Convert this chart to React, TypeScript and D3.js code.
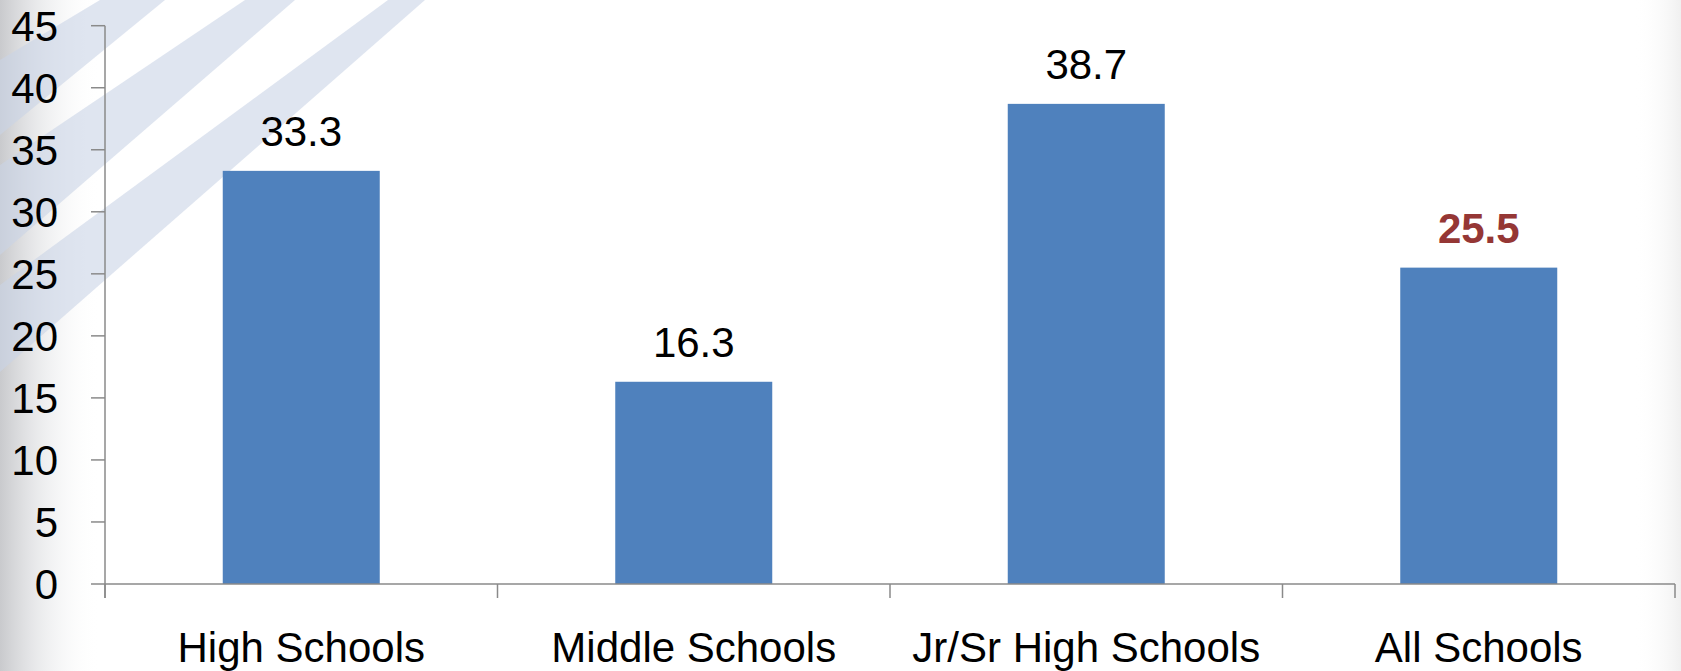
import React, { useEffect } from "react";
import * as d3 from "d3";

const categories = ["High Schools", "Middle Schools", "Jr/Sr High Schools", "All Schools"];
const values = [33.3, 16.3, 38.7, 25.5];
const highlighted = [false, false, false, true];
const yTicks = [0, 5, 10, 15, 20, 25, 30, 35, 40, 45];

const W = 1681;
const H = 671;
const FONT = "'Liberation Sans', Arial, sans-serif";
const AXIS = "#8a8a8a";

// decorative background stripes (slide theme), not data
const stripes: [number, number][][] = [
  [[100, 0], [165, 0], [0, 135], [0, 60]],
  [[245, 0], [295, 0], [0, 255], [0, 165]],
  [[388, 0], [425, 0], [0, 372], [0, 285]],
];

export default function App() {
  useEffect(() => {
    document.body.style.margin = "0";
  }, []);

  const x = d3
    .scaleBand<string>()
    .domain(categories)
    .range([105, 1675])
    .paddingInner(0.6)
    .paddingOuter(0.3);
  const y = d3.scaleLinear().domain([0, 45]).range([584, 25.7]);
  const step = x.step();
  const x0 = 105;
  const boundaries = d3.range(categories.length + 1).map((i) => x0 + i * step);

  return (
    <div style={{ position: "absolute", left: 0, top: 0 }}>
      <svg width={W} height={H} style={{ display: "block" }}>
        <defs>
          <linearGradient id="leftShade" x1="0" x2="1" y1="0" y2="0">
            <stop offset="0" stopColor="#c9cacd" stopOpacity={1} />
            <stop offset="0.35" stopColor="#e2e3e5" stopOpacity={0.8} />
            <stop offset="1" stopColor="#ffffff" stopOpacity={0} />
          </linearGradient>
          <linearGradient id="rightShade" x1="0" x2="1" y1="0" y2="0">
            <stop offset="0" stopColor="#ffffff" stopOpacity={0} />
            <stop offset="1" stopColor="#e6e6e6" stopOpacity={1} />
          </linearGradient>
        </defs>
        <rect x={0} y={0} width={W} height={H} fill="#ffffff" />
        <rect x={0} y={0} width={100} height={H} fill="url(#leftShade)" />
        <rect x={1635} y={0} width={46} height={H} fill="url(#rightShade)" opacity={0.6} />
        {stripes.map((p, i) => (
          <polygon
            key={i}
            points={p.map((q) => q.join(",")).join(" ")}
            fill="#c9d3e6"
            opacity={0.6}
          />
        ))}

        {/* bars */}
        {categories.map((c, i) => (
          <rect
            key={c}
            x={x(c)!}
            y={y(values[i])}
            width={x.bandwidth()}
            height={y(0) - y(values[i])}
            fill="#4f81bd"
          />
        ))}

        {/* value labels */}
        {categories.map((c, i) => (
          <text
            key={c}
            x={x(c)! + x.bandwidth() / 2}
            y={y(values[i]) - 24.5}
            textAnchor="middle"
            fontFamily={FONT}
            fontSize={42}
            fontWeight={highlighted[i] ? "bold" : "normal"}
            fill={highlighted[i] ? "#953735" : "#000000"}
          >
            {values[i].toFixed(1)}
          </text>
        ))}

        {/* y axis */}
        <line x1={x0} x2={x0} y1={y(45)} y2={598} stroke={AXIS} strokeWidth={1.5} />
        {yTicks.map((t) => (
          <g key={t}>
            <line x1={91} x2={x0} y1={y(t)} y2={y(t)} stroke={AXIS} strokeWidth={1.5} />
            <text
              x={58}
              y={y(t) + 15}
              textAnchor="end"
              fontFamily={FONT}
              fontSize={42}
              fill="#000000"
            >
              {t}
            </text>
          </g>
        ))}

        {/* x axis */}
        <line x1={x0} x2={boundaries[boundaries.length - 1]} y1={y(0)} y2={y(0)} stroke={AXIS} strokeWidth={1.5} />
        {boundaries.map((b, i) => (
          <line key={i} x1={b} x2={b} y1={y(0)} y2={598} stroke={AXIS} strokeWidth={1.5} />
        ))}
        {categories.map((c) => (
          <text
            key={c}
            x={x(c)! + x.bandwidth() / 2}
            y={662}
            textAnchor="middle"
            fontFamily={FONT}
            fontSize={42}
            fill="#000000"
          >
            {c}
          </text>
        ))}
      </svg>
    </div>
  );
}
